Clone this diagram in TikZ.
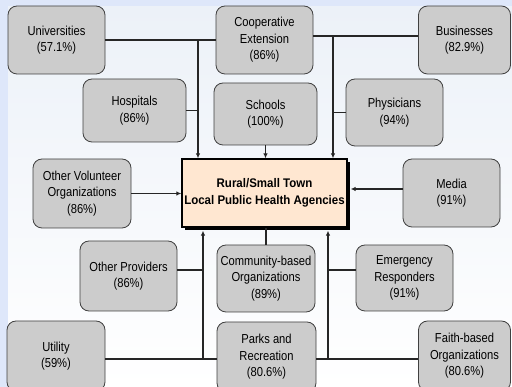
\documentclass[tikz,border=0pt]{standalone}
\usepackage{fontspec}
\setmainfont{Liberation Sans}[FakeStretch=0.86]
\newfontfamily\hubfont{Liberation Sans}[FakeStretch=0.92]
\usetikzlibrary{arrows.meta,shadows}
\definecolor{myframe}{RGB}{222,231,250}
\definecolor{mybg}{RGB}{236,241,248}
\definecolor{mygray}{RGB}{204,204,204}
\definecolor{mypeach}{RGB}{255,231,209}

\begin{document}
\begin{tikzpicture}[x=1pt,y=-1pt,
  agency/.style={draw=black!75,fill=mygray,rounded corners=9pt,line width=0.8pt,
    inner sep=0pt,align=center,font=\fontsize{13}{16.5}\selectfont,
    minimum width=97pt,minimum height=68pt},
  hubnode/.style={draw=black,fill=mypeach,line width=1.3pt,inner sep=0pt,align=center,
    font=\hubfont\fontsize{12.5}{17}\selectfont\bfseries,minimum width=165pt,minimum height=68pt,
    drop shadow={shadow xshift=3pt,shadow yshift=-3pt,fill=black,opacity=1}},
  link/.style={line width=1.2pt,black!85},
  >={Latex[length=5pt,width=4.5pt]}]

  \useasboundingbox (0,0) rectangle (512,387);
  \clip (0,0) rectangle (512,387);
  \fill[myframe] (0,0) rectangle (512,387);
  \shade[top color=mybg,bottom color=white] (8,7) rectangle (512,387);

  % top row
  \node[agency] (univ) at (56.5,40) {Universities\\(57.1\%)};
  \node[agency] (coop) at (264.5,40) {Cooperative\\Extension\\(86\%)};
  \node[agency,minimum width=92pt] (busi) at (464.5,40) {Businesses\\(82.9\%)};

  \node[agency,minimum width=103pt,minimum height=63pt] (hosp) at (134.5,110.5) {Hospitals\\(86\%)};
  \node[agency,minimum width=103pt,minimum height=62pt] (school) at (265.5,114) {Schools\\(100\%)};
  \node[agency,minimum height=67pt] (phys) at (394.5,112.5) {Physicians\\(94\%)};

  % middle row
  \node[agency,minimum width=98pt,minimum height=69pt] (otherv) at (82,193.5) {Other Volunteer\\Organizations\\(86\%)};
  \node[hubnode] (hub) at (264.5,193) {Rural/Small Town\\Local Public Health Agencies};
  \node[agency] (media) at (451.5,193) {Media\\(91\%)};

  % bottom rows
  \node[agency,minimum height=70pt] (otherp) at (128.5,276) {Other Providers\\(86\%)};
  \node[agency,minimum width=98pt,minimum height=67pt] (comm) at (266,278.5) {Community-based\\Organizations\\(89\%)};
  \node[agency,minimum height=66pt] (emerg) at (404.5,278) {Emergency\\Responders\\(91\%)};

  \node[agency,minimum width=98pt,minimum height=70pt] (util) at (56,356) {Utility\\(59\%)};
  \node[agency,minimum width=99pt,minimum height=70pt] (parks) at (266.5,357) {Parks and\\Recreation\\(80.6\%)};
  \node[agency,minimum width=92pt,minimum height=70pt] (faith) at (464.5,356) {Faith-based\\Organizations\\(80.6\%)};

  \coordinate (topl) at (198,40);
  \coordinate (topr) at (333,36);
  \coordinate (botl) at (203,359);
  \coordinate (botr) at (328,359);
  \coordinate (midl) at (203,270);
  \coordinate (midr) at (328,270);
  \coordinate (medl) at (403,189);

  % draw links above the hub
  \draw[link] (univ.east) -- (coop.west);
  \draw[link] (coop.east |- topr) -- (busi.west |- topr);
  \draw[link] (hosp.east) -- (hosp.east -| topl);
  \draw[link] (phys.west) -- (phys.west -| topr);
  \draw[link,->] (topl) -- (topl |- hub.north);
  \draw[link,->] (topr) -- (topr |- hub.north);
  \draw[link,->] (school.south) -- (school.south |- hub.north);

  % draw links beside the hub
  \draw[link,->] (otherv.east) -- (otherv.east -| hub.west);
  \draw[link,->,shorten >=3pt] (media.west |- medl) -- (medl -| hub.east);

  % draw links below the hub
  \draw[link] (comm.north) -- (comm.north |- hub.south);
  \draw[link] (otherp.east |- midl) -- (midl);
  \draw[link] (emerg.west |- midr) -- (midr);
  \draw[link] (util.east |- botl) -- (parks.west |- botl);
  \draw[link] (parks.east |- botr) -- (faith.west |- botr);
  \draw[link,->,shorten >=3pt] (botl) -- (botl |- hub.south);
  \draw[link,->,shorten >=3pt] (botr) -- (botr |- hub.south);

\end{tikzpicture}
\end{document}
